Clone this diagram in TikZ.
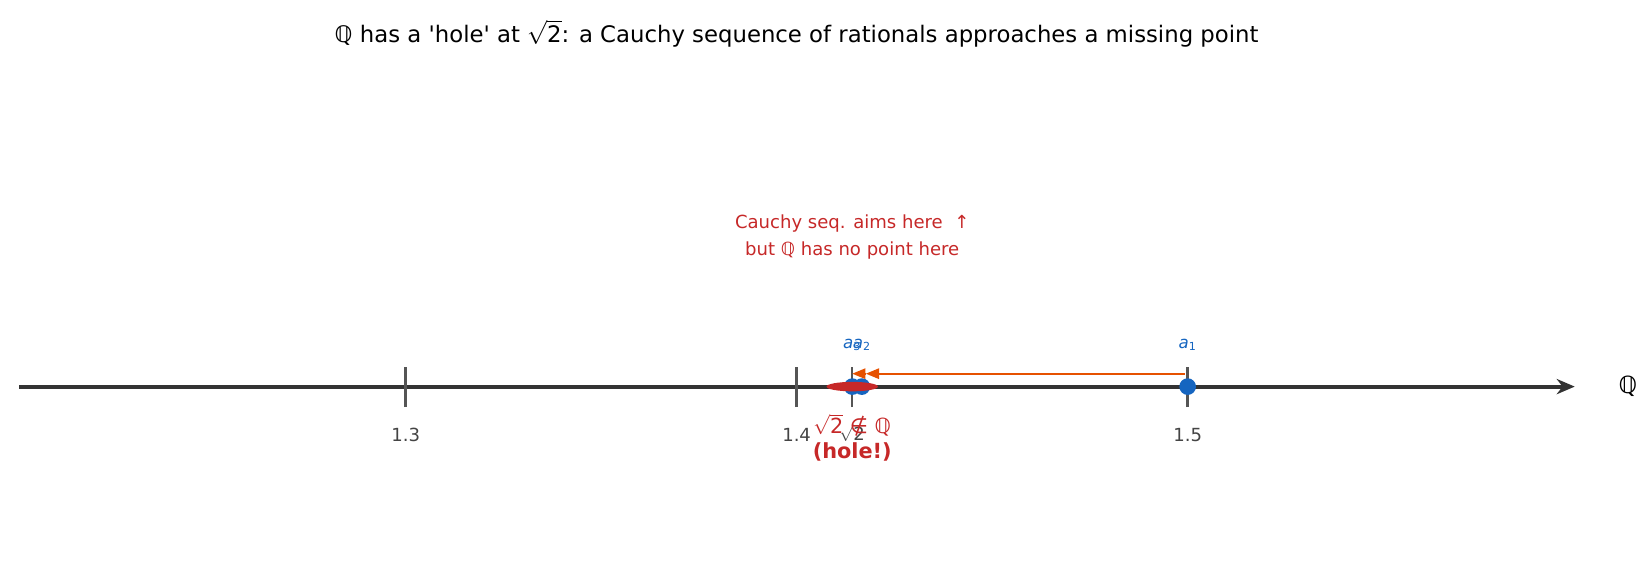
\documentclass[tikz,border=0pt]{standalone}
\usepackage{fontspec,amsmath}
\setmainfont{DejaVu Sans}
\usetikzlibrary{arrows.meta,positioning,shapes.geometric}
\definecolor{holered}{HTML}{C62828}
\definecolor{seqblue}{HTML}{1565C0}
\definecolor{arrorange}{HTML}{E65100}
\definecolor{axisgray}{HTML}{333333}
\definecolor{tickgray}{HTML}{555555}
\definecolor{lblgray}{HTML}{444444}
\tikzset{
  axisln/.style={draw=axisgray,line width=3pt,-{Stealth[length=13pt,width=11pt]}},
  tickmk/.style={draw=tickgray,line width=1.8pt},
  ticklbl/.style={text=lblgray,font=\fontsize{13}{15}\selectfont,inner sep=0pt},
  seqdot/.style={circle,fill=seqblue,minimum size=12pt,inner sep=0pt},
  seqlbl/.style={text=seqblue,font=\fontsize{12}{14}\selectfont,inner sep=0pt},
  seqarr/.style={draw=arrorange,line width=1.2pt,-{Triangle[length=9.5pt,width=7.5pt]}},
  holemk/.style={ellipse,fill=holered,minimum width=37pt,minimum height=6.8pt,inner sep=0pt},
  redlbl/.style={text=holered,align=center,inner sep=0pt}
}

\begin{document}
\begin{tikzpicture}[x=2815.2pt,y=0.72pt]
  \useasboundingbox (1.19627,-178.4) rectangle (1.61877,386.6);

  \node[font=\fontsize{16.4}{19}\selectfont] (title) at (1.4,352.9)
    {ℚ has a \textquotesingle hole\textquotesingle{} at $\sqrt{\text{2}}$: a Cauchy sequence of rationals approaches a missing point};

  % number line
  \coordinate (ax0) at (1.2012,0);
  \coordinate (ax1) at (1.599,0);
  \draw[axisln] (ax0) -- (ax1);
  \node[font=\fontsize{17}{20}\selectfont] (qlbl) at (1.6126,0) {ℚ};

  \coordinate (t13) at (1.3,0);
  \coordinate (t14) at (1.4,0);
  \coordinate (tsq) at (1.41421,0);
  \coordinate (t15) at (1.5,0);
  \draw[tickmk] ([yshift=-14.7pt]t13) -- ([yshift=14.1pt]t13);
  \draw[tickmk] ([yshift=-14.7pt]t14) -- ([yshift=14.1pt]t14);
  \draw[tickmk] ([yshift=-14.7pt]tsq) -- ([yshift=14.1pt]tsq);
  \draw[tickmk] ([yshift=-14.7pt]t15) -- ([yshift=14.1pt]t15);
  \node[ticklbl, below=29.8pt of t13] (l13) {1.3};
  \node[ticklbl, below=29.8pt of t14] (l14) {1.4};
  \node[ticklbl, below=27pt of tsq] (lsq) {$\sqrt{\text{2}}$};
  \node[ticklbl, below=29.8pt of t15] (l15) {1.5};

  % sequence
  \node[seqdot] (a1) at (1.5,0) {};
  \node[seqdot] (a2) at (1.416667,0) {};
  \node[seqdot] (a3) at (1.414216,0) {};
  \node[seqlbl] (la1) at ([yshift=30pt]a1.center) {\textit{a}\textsubscript{1}};
  \node[seqlbl] (la2) at ([yshift=30pt]a2.center) {\textit{a}\textsubscript{2}};
  \node[seqlbl] (la3) at ([yshift=30pt]a3.center) {\textit{a}\textsubscript{3}};
  \draw[seqarr, shorten <=2.2pt, shorten >=2.9pt] ([yshift=9.3pt]a1.center) -- ([yshift=9.3pt]a2.center);
  \draw[seqarr, shorten <=2pt] ([yshift=9.3pt]a2.center) -- ([yshift=9.3pt]a3.center);

  % the hole
  \node[holemk] (hole) at (1.41421,0) {};
  \node[redlbl, font=\fontsize{15}{18}\selectfont] (holelbl) at (1.41421,-51)
    {$\sqrt{\text{2}}$ ∉ ℚ\\\textbf{(hole!)}};
  \node[redlbl, font=\fontsize{13}{19.4}\selectfont] (aim) at (1.41421,150)
    {Cauchy seq. aims here~ ↑\\but ℚ has no point here};
\end{tikzpicture}
\end{document}
